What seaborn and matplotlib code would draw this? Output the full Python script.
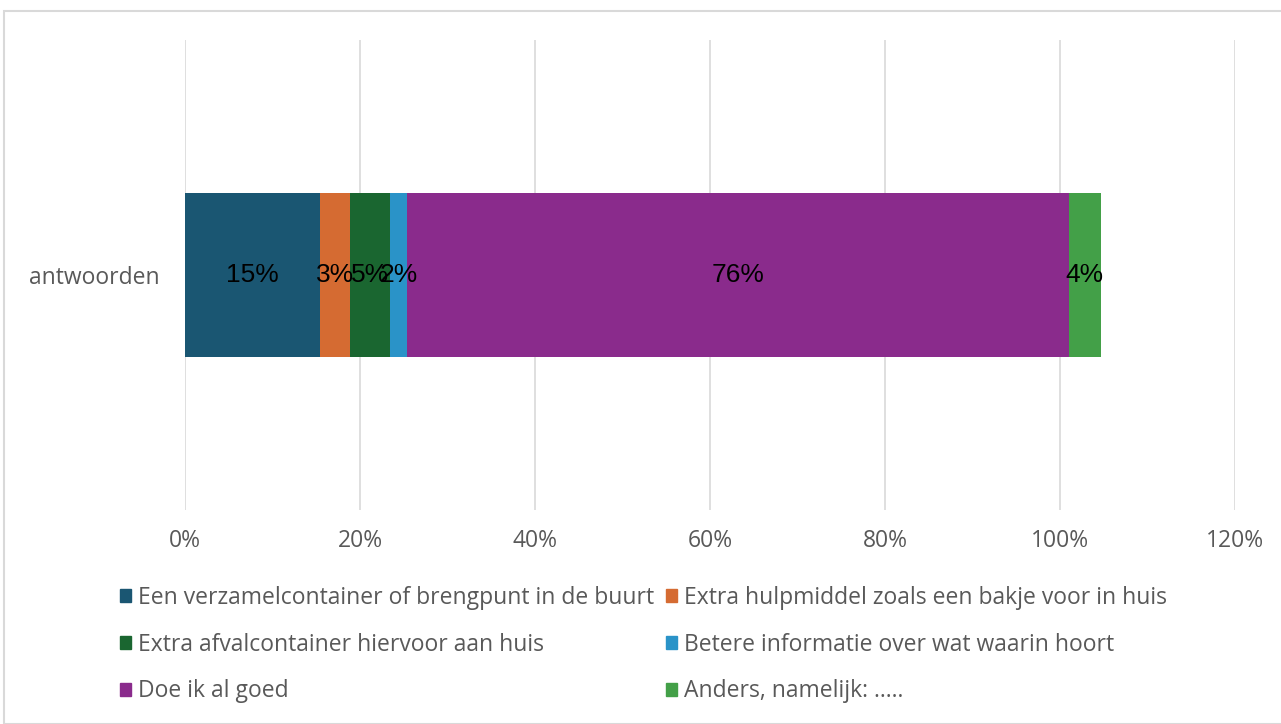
import numpy as np
import pandas as pd
import matplotlib
matplotlib.use("Agg")
import matplotlib.pyplot as plt
import matplotlib.patches as mpatches
import seaborn as sns

# data (share of respondents, %)
categories = ["Een verzamelcontainer of brengpunt in de buurt",
              "Extra hulpmiddel zoals een bakje voor in huis",
              "Extra afvalcontainer hiervoor aan huis",
              "Betere informatie over wat waarin hoort",
              "Doe ik al goed",
              "Anders, namelijk: ....."]
values = [15.4, 3.4, 4.6, 2.0, 75.6, 3.7]
colors = ["#1A5672", "#D56B32", "#1A6630", "#2A93C8", "#8A2B8C", "#43A048"]
row_label = "antwoorden"

sns.set_theme(style="white")
plt.rcParams["font.family"] = ["Open Sans", "DejaVu Sans"]
text_gray = "#595959"

fig = plt.figure(figsize=(12.81, 7.24), dpi=100)
ax = fig.add_axes([185 / 1281, 1 - 510 / 724, 1050 / 1281, 470 / 724])

# stacked bar: draw cumulative totals from the outermost inwards
cum = np.cumsum(values)
for i in range(len(values) - 1, -1, -1):
    df = pd.DataFrame({"cat": [row_label], "val": [cum[i]]})
    sns.barplot(data=df, x="val", y="cat", orient="h", color=colors[i],
                width=0.35, saturation=1, ax=ax, linewidth=0)

starts = cum - np.array(values)
for s, v in zip(starts, values):
    ax.text(s + v / 2, 0, f"{v:.0f}%", ha="center", va="center",
            fontsize=19, color="black", family=["Liberation Sans", "DejaVu Sans"])

ax.set_xlim(0, 120)
ax.set_ylim(0.5, -0.5)
ax.set_xticks(np.arange(0, 121, 20))
ax.set_xticklabels([f"{t}%" for t in range(0, 121, 20)])
ax.xaxis.grid(True, color="#D9D9D9", linewidth=1.2)
ax.set_axisbelow(True)
ax.set_xlabel("")
ax.set_ylabel("")
sns.despine(ax=ax, left=True, bottom=True)
ax.tick_params(axis="both", length=0, labelsize=16.5, labelcolor=text_gray)
ax.tick_params(axis="x", pad=14)
ax.tick_params(axis="y", pad=18)

# legend in two columns (row-wise order)
handles = [mpatches.Patch(color=c, label=l) for c, l in zip(colors, categories)]
order = [0, 2, 4, 1, 3, 5]
leg = fig.legend([handles[i] for i in order], [categories[i] for i in order],
                 ncol=2, loc="upper left", bbox_to_anchor=(99 / 1281, 1 - 565 / 724),
                 frameon=False, fontsize=16.5, handlelength=0.5, handleheight=0.5,
                 handletextpad=0.3, labelspacing=1.0, columnspacing=0.5,
                 labelcolor=text_gray)

# outer chart border
fig.patches.append(mpatches.Rectangle((4 / 1281, 0), 1.2, 1 - 11 / 724,
                                      transform=fig.transFigure, fill=False,
                                      edgecolor="#D9D9D9", linewidth=1.5))

plt.savefig("out.png", dpi=100)
